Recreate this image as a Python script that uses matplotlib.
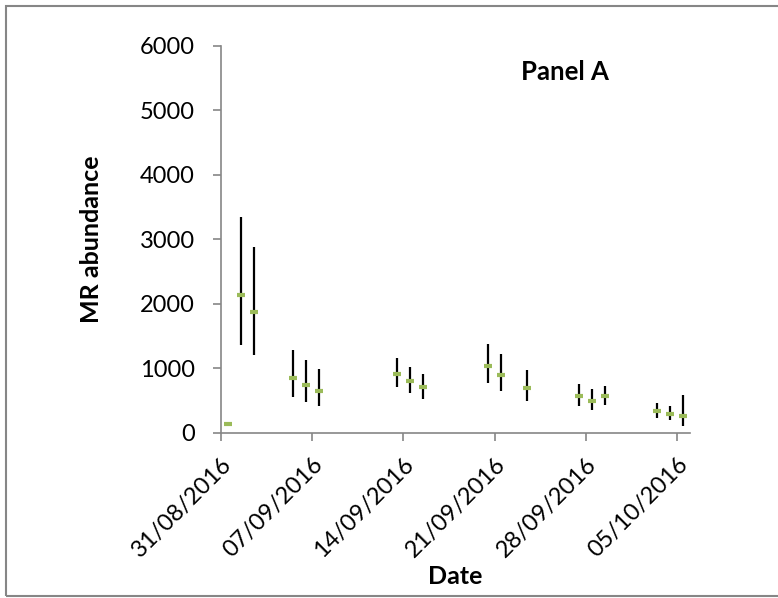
import datetime as dt
import matplotlib
matplotlib.use('Agg')
import matplotlib.pyplot as plt
import matplotlib.dates as mdates
from matplotlib.patches import Rectangle

# sampling dates and MR abundance (mean, upper and lower error limits)
dates = ['31/08/2016', '01/09/2016', '02/09/2016', '05/09/2016', '06/09/2016', '07/09/2016',
         '13/09/2016', '14/09/2016', '15/09/2016', '20/09/2016', '21/09/2016', '23/09/2016',
         '27/09/2016', '28/09/2016', '29/09/2016', '03/10/2016', '04/10/2016', '05/10/2016']
mean = [130, 2143, 1879, 845, 741, 648, 916, 803, 705, 1031, 901, 694, 565, 492, 570, 337, 295, 259]
upper = [130, 3345, 2888, 1280, 1124, 989, 1155, 1025, 911, 1373, 1217, 969, 756, 674, 720, 461, 410, 585]
lower = [130, 1367, 1207, 550, 481, 419, 714, 612, 528, 767, 652, 488, 410, 352, 435, 233, 202, 109]

tick_dates = ['31/08/2016', '07/09/2016', '14/09/2016', '21/09/2016', '28/09/2016', '05/10/2016']

def to_num(s):
    return mdates.date2num(dt.datetime.strptime(s, '%d/%m/%Y'))

# points sit in the middle of their day
x = [to_num(d) + 0.5 for d in dates]
err_lo = [m - l for m, l in zip(mean, lower)]
err_hi = [u - m for m, u in zip(mean, upper)]

axis_grey = '#868686'
plt.rcParams['font.family'] = ['Lato', 'DejaVu Sans']

fig = plt.figure(figsize=(7.78, 5.98), dpi=100)
ax = fig.add_axes([221/778, 1 - 432.7/598, (690 - 221)/778, (432.7 - 46)/598])

ax.errorbar(x, mean, yerr=[err_lo, err_hi], fmt='none', ecolor='black', elinewidth=1.6, capsize=0)
ax.plot(x, mean, linestyle='none', marker='_', markersize=5.5, markeredgewidth=3, color='#9BBB59', zorder=3)

ax.set_xlim(to_num('31/08/2016'), to_num('06/10/2016'))
ax.set_ylim(0, 6000)
ax.set_yticks(range(0, 6001, 1000))
ax.set_xticks([to_num(d) for d in tick_dates])
ax.set_xticklabels(tick_dates, rotation=45, ha='right', rotation_mode='anchor')

for side in ['top', 'right']:
    ax.spines[side].set_visible(False)
for side in ['left', 'bottom']:
    ax.spines[side].set_color(axis_grey)
    ax.spines[side].set_linewidth(1.2)
ax.tick_params(axis='both', colors=axis_grey, width=1.2, length=6, labelcolor='black', labelsize=17)
ax.tick_params(axis='y', pad=13)
ax.tick_params(axis='x', pad=9)

ax.set_ylabel('MR abundance', fontsize=18, fontweight='bold', labelpad=26)
ax.set_xlabel('Date', fontsize=18, fontweight='bold', labelpad=3)
ax.text(0.64, 0.965, 'Panel A', transform=ax.transAxes, fontsize=18.5, fontweight='bold', va='top')

# chart area border
fig.patches.append(Rectangle((6/778, 2/598), 1.0, 590/598, transform=fig.transFigure,
                             fill=False, edgecolor=axis_grey, linewidth=1.5))

fig.savefig('out.png', dpi=100)
